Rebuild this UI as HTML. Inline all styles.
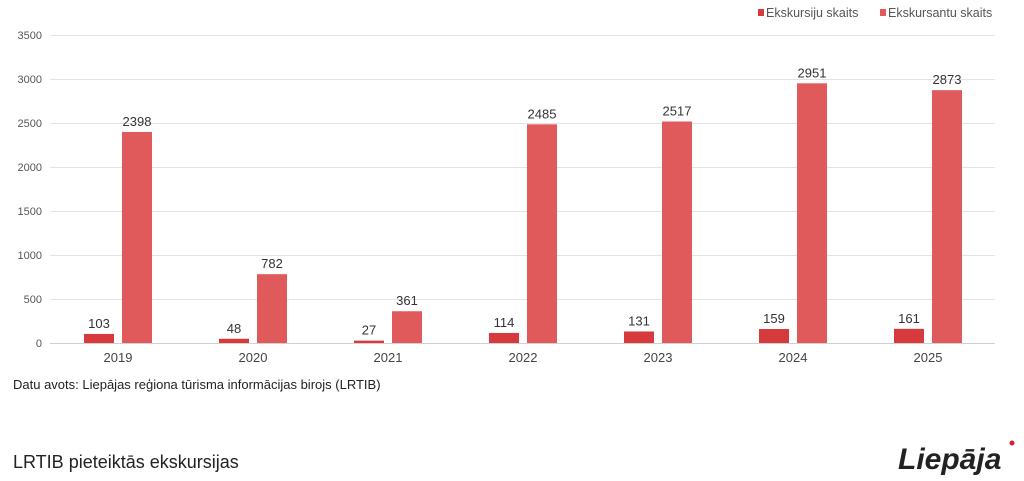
<!DOCTYPE html>
<html><head><meta charset="utf-8"><style>
body{margin:0;background:#fff;width:1024px;height:476px;overflow:hidden;font-family:"Liberation Sans",Arial,sans-serif}
</style></head><body>
<svg width="1024" height="476" xmlns="http://www.w3.org/2000/svg" font-family="Liberation Sans, Arial, sans-serif">
<g stroke="#e3e3e3" stroke-width="1">
<line x1="50" x2="995" y1="35.5" y2="35.5"/>
<line x1="50" x2="995" y1="79.5" y2="79.5"/>
<line x1="50" x2="995" y1="123.5" y2="123.5"/>
<line x1="50" x2="995" y1="167.5" y2="167.5"/>
<line x1="50" x2="995" y1="211.5" y2="211.5"/>
<line x1="50" x2="995" y1="255.5" y2="255.5"/>
<line x1="50" x2="995" y1="299.5" y2="299.5"/>
<line x1="50" x2="995" y1="343.5" y2="343.5" stroke="#d0d0d0"/>
</g>
<g font-size="11" fill="#555" text-anchor="end">
<text x="42" y="39">3500</text><text x="42" y="83">3000</text><text x="42" y="127">2500</text><text x="42" y="171">2000</text><text x="42" y="215">1500</text><text x="42" y="259">1000</text><text x="42" y="303">500</text><text x="42" y="347">0</text>
</g>
<g id="bars"></g>
<rect x="758" y="9" width="6" height="7" fill="#d63a3d"/>
<text x="766" y="17" font-size="12.5" fill="#555">Ekskursiju skaits</text>
<rect x="880" y="9" width="6" height="7" fill="#e05a5c"/>
<text x="888" y="17" font-size="12.5" fill="#555">Ekskursantu skaits</text>
<text x="13" y="389" font-size="13" fill="#222">Datu avots: Liepājas reģiona tūrisma informācijas birojs (LRTIB)</text>
<text x="13" y="468" font-size="18" fill="#222">LRTIB pieteiktās ekskursijas</text>
<text x="898" y="469" font-size="30" font-weight="bold" font-style="italic" fill="#222">Liepāja</text>
<circle cx="1012" cy="443" r="2.5" fill="#d6202a"/>
</svg>
<script>
var d=[[2019,103,2398],[2020,48,782],[2021,27,361],[2022,114,2485],[2023,131,2517],[2024,159,2951],[2025,161,2873]];
var g=document.getElementById('bars'),h='';
d.forEach(function(r,i){var c=118+i*135;
function b(x,v,col){var y=343-v*0.088;h+='<rect x="'+x+'" y="'+y+'" width="30" height="'+(343-y)+'" fill="'+col+'"/>';
h+='<text x="'+(x+15)+'" y="'+(y-6)+'" font-size="13" fill="#333" text-anchor="middle">'+v+'</text>';}
b(c-34,r[1],'#d63a3d');b(c+4,r[2],'#e05a5c');
h+='<text x="'+c+'" y="362" font-size="13" fill="#444" text-anchor="middle">'+r[0]+'</text>';});
g.innerHTML=h;
</script>
</body></html>
